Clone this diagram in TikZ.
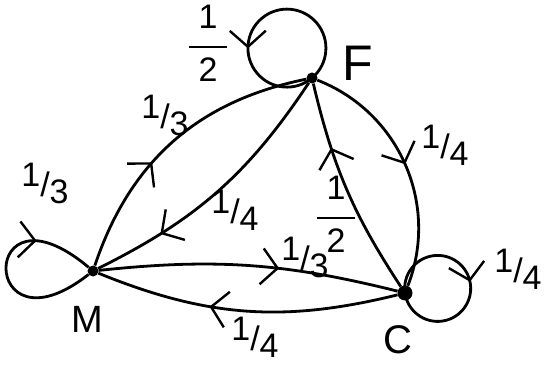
\documentclass[tikz,border=0pt]{standalone}
\usepackage{fontspec}
\setmainfont{Liberation Sans}
\usetikzlibrary{arrows.meta,decorations.markings}
\newcommand{\hfr}[2]{\raisebox{.3em}{#1}/\raisebox{-.2em}{#2}}
\newcommand{\vfr}[2]{\begin{tabular}{@{}c@{}}#1\\[-8pt]\rule[0.3em]{1.1em}{2.4pt}\\[-15pt]#2\end{tabular}}
\tikzset{
  dot/.style={circle,fill=black,inner sep=0pt,minimum size=#1},
  edge/.style={draw=black,line width=2.8pt},
  arr/.style={postaction={decorate,decoration={markings,mark=at position #1 with {\arrow{Straight Barb[length=16pt,width=36pt,line width=2.4pt]}}}}},
  lbl/.style={inner sep=0pt,font=\fontsize{34}{38}\selectfont},
  vlbl/.style={inner sep=0pt,font=\fontsize{34}{38}\selectfont},
  big/.style={inner sep=0pt,font=\fontsize{#1}{#1}\selectfont}
}
\begin{document}
\begin{tikzpicture}[x=1pt,y=1pt]
\useasboundingbox[fill=white] (0,0) rectangle (550,365);
% nodes
\node[dot=11pt] (F) at (312,287) {};
\node[dot=11pt] (M) at (93,94) {};
\node[dot=15pt] (C) at (405,72) {};
% node letters
\node[big=50] (Fl) at (358,302) {F};
\node[big=38] (Ml) at (87,46) {M};
\node[big=40] (Cl) at (398,25) {C};
% loops
\draw[edge,arr=0.64] (F.center) arc[start angle=-50,delta angle=360,radius=39pt];
\draw[edge,arr=0.72] (M) .. controls +(218:145) and +(140:150) .. (M);
\draw[edge,arr=0.49] (C.center) arc[start angle=188,delta angle=-360,radius=33pt];
% edges
\draw[edge,arr=0.4] (M) to[bend left=30] (F);
\draw[edge,arr=0.75] (F) to[bend left=15] (M);
\draw[edge,arr=0.5] (F) to[bend left=45] (C);
\draw[edge,arr=0.7] (C) to[bend left=10] (F);
\draw[edge,arr=0.6] (M) to[bend left=10] (C);
\draw[edge,arr=0.62] (C) to[bend left=18] (M);
% labels
\node[vlbl] (l1) at (208,318) {\vfr{1}{2}};
\node[lbl] (l2) at (165,250) {\hfr{1}{3}};
\node[lbl] (l3) at (235,155) {\hfr{1}{4}};
\node[vlbl] (l4) at (336,147) {\vfr{1}{2}};
\node[lbl] (l5) at (445,220) {\hfr{1}{4}};
\node[lbl] (l6) at (45,182) {\hfr{1}{3}};
\node[lbl] (l7) at (305,108) {\hfr{1}{3}};
\node[lbl] (l8) at (255,28) {\hfr{1}{4}};
\node[lbl] (l9) at (518,96) {\hfr{1}{4}};
\end{tikzpicture}
\end{document}
